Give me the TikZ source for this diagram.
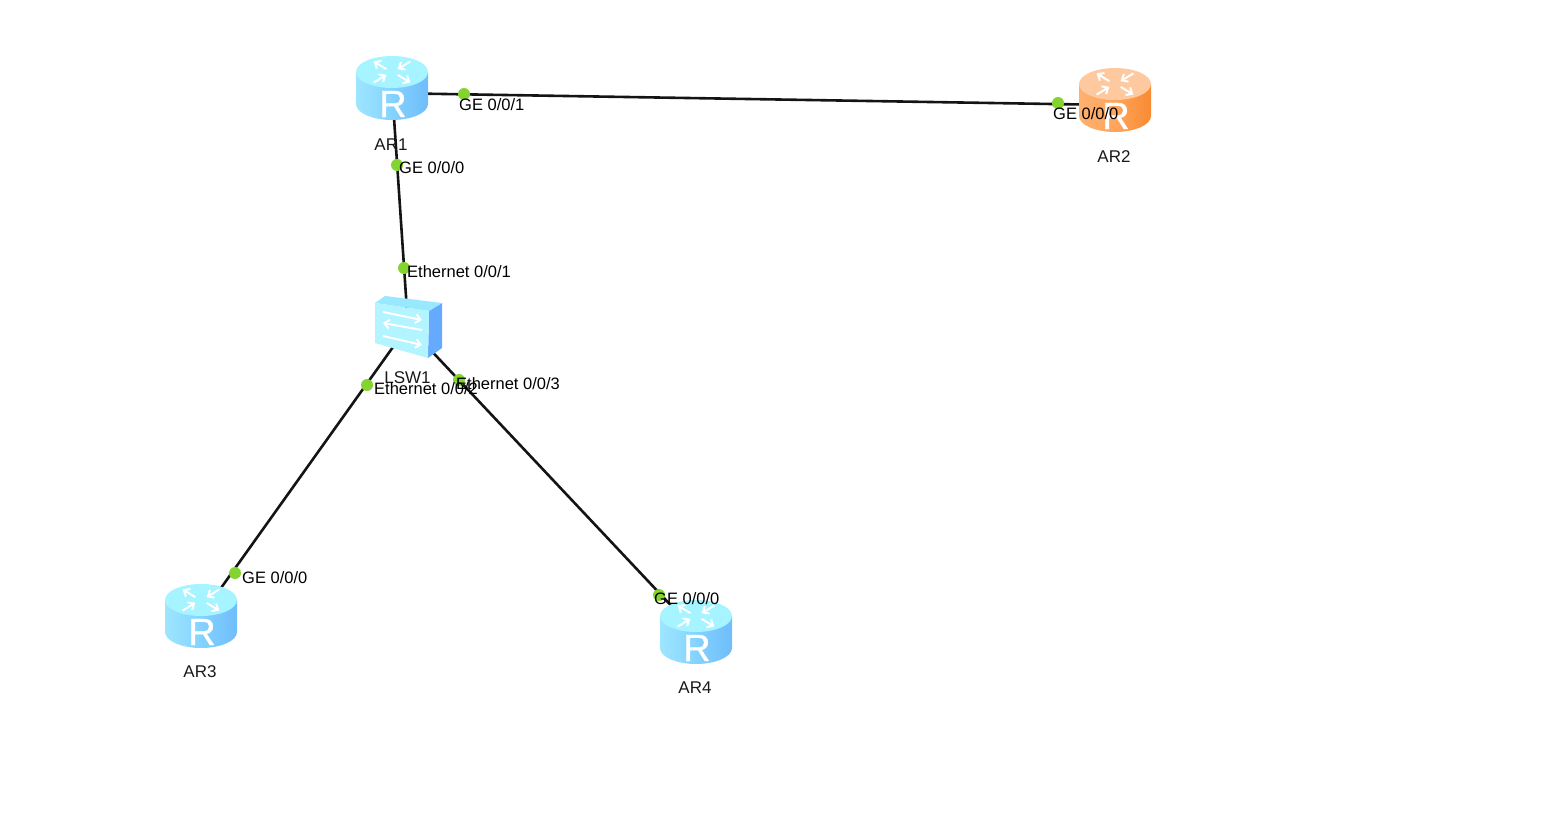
\documentclass[tikz,border=0pt]{standalone}
\usepackage{fontspec}
\setmainfont{Liberation Sans}
\newfontfamily\iconfont[FakeBold=0.8]{Liberation Sans}
\usetikzlibrary{arrows.meta}

\definecolor{routerTop}{HTML}{A6F4FF}
\definecolor{routerLight}{HTML}{9EE6FF}
\definecolor{routerMid}{HTML}{84D2FF}
\definecolor{routerDark}{HTML}{6FBDFA}
\definecolor{peerTop}{HTML}{FFC9A0}
\definecolor{peerLight}{HTML}{FFB070}
\definecolor{peerMid}{HTML}{FFA55C}
\definecolor{peerDark}{HTML}{F98A32}
\definecolor{portgreen}{HTML}{84D430}
\definecolor{switchFront}{HTML}{B2F4FF}
\definecolor{switchTop}{HTML}{98E8FF}
\definecolor{switchSide}{HTML}{66AAFF}

\tikzset{
	devbox/.style={minimum width=72pt, minimum height=64pt, inner sep=0pt},
	swbox/.style={minimum width=66pt, minimum height=65pt, inner sep=0pt},
	link/.style={line width=2.6pt, black!92},
	portdot/.style={circle, fill=portgreen, minimum size=12pt, inner sep=0pt},
	portlabel/.style={font=\fontsize{16.5}{18}\selectfont, anchor=west, inner sep=0pt, text=black},
	devlabel/.style={font=\fontsize{17}{18}\selectfont, inner sep=0pt, text=black!90},
	flowarrow/.style={white, line width=2pt, -{Straight Barb[length=5pt,width=9pt]}},
	router/.pic={
		\path[left color=#1Light, right color=#1Dark, middle color=#1Mid]
			(-36,-16) -- (-36,16) arc[start angle=180, end angle=0, x radius=36, y radius=16] -- (36,-16) -- cycle;
		\fill[#1Top] (0,-16) ellipse[x radius=36, y radius=16];
		\foreach \ang in {45,225}{
			\draw[flowarrow] ({8*cos(\ang)},{-16+4*sin(\ang)}) -- ({26*cos(\ang)},{-16+15*sin(\ang)});
		}
		\foreach \ang in {135,315}{
			\draw[flowarrow] ({26*cos(\ang)},{-16+15*sin(\ang)}) -- ({8*cos(\ang)},{-16+4*sin(\ang)});
		}
		\node[font=\iconfont\fontsize{38}{38}\selectfont, text=white, inner sep=0pt] (-letter) at (1,16) {R};
	},
	switchicon/.pic={
		\fill[switchSide] (21,-15) -- (34,-23) -- (34,22) -- (20,32) -- cycle;
		\fill[switchTop] (-33,-23) -- (-23,-30) -- (34,-23) -- (21,-15) -- cycle;
		\fill[switchFront] (-33,-23) -- (21,-15) -- (20,32) -- (-33,17) -- cycle;
		\draw[flowarrow] (-25,-14) -- (14,-6);
		\draw[flowarrow] (14,4) -- (-25,-3);
		\draw[flowarrow] (-25,10) -- (14,19);
	},
}

\begin{document}
\begin{tikzpicture}[x=1pt, y=-1pt]
	\useasboundingbox (0,0) rectangle (1560,827);
	% devices
	\node[devbox] (AR1) at (392,88) {};
	\node[devbox] (AR2) at (1115,100) {};
	\node[devbox] (AR3) at (201,616) {};
	\node[devbox] (AR4) at (696,632) {};
	\node[swbox] (LSW1) at (408,326) {};

	% links
	\draw[link] (AR1.-9) -- (AR2.187);
	\draw[link] (AR1.center) -- (LSW1.center);
	\draw[link] (LSW1.center) -- (AR3.center);
	\draw[link] (LSW1.center) -- (AR4.center);

	\pic (iconAR1) at (AR1) {router=router};
	\pic (iconAR2) at (AR2) {router=peer};
	\pic (iconAR3) at (AR3) {router=router};
	\pic (iconAR4) at (AR4) {router=router};
	\pic (iconLSW1) at (LSW1) {switchicon};

	% device names
	\node[devlabel] (nameAR1) at (391,145) {AR1};
	\node[devlabel] (nameAR2) at (1114,157) {AR2};
	\node[devlabel] (nameAR3) at (200,672) {AR3};
	\node[devlabel] (nameAR4) at (695,688) {AR4};
	\node[devlabel] (nameLSW1) at (407.5,378) {LSW1};

	% ports
	\node[portdot] (p1) at (464,94) {};
	\node[portdot] (p2) at (1058,103) {};
	\node[portdot] (p3) at (397,165) {};
	\node[portdot] (p4) at (404,268) {};
	\node[portdot] (p5) at (367,385) {};
	\node[portdot] (p6) at (459,380) {};
	\node[portdot] (p7) at (235,573) {};
	\node[portdot] (p8) at (659,595) {};

	\node[portlabel] (l1) at (459,105) {GE 0/0/1};
	\node[portlabel] (l2) at (1053,114) {GE 0/0/0};
	\node[portlabel] (l3) at (399,168) {GE 0/0/0};
	\node[portlabel] (l4) at (407,272) {Ethernet 0/0/1};
	\node[portlabel] (l5) at (374,389) {Ethernet 0/0/2};
	\node[portlabel] (l6) at (456,384) {Ethernet 0/0/3};
	\node[portlabel] (l7) at (242,578) {GE 0/0/0};
	\node[portlabel] (l8) at (654,599) {GE 0/0/0};
\end{tikzpicture}
\end{document}
